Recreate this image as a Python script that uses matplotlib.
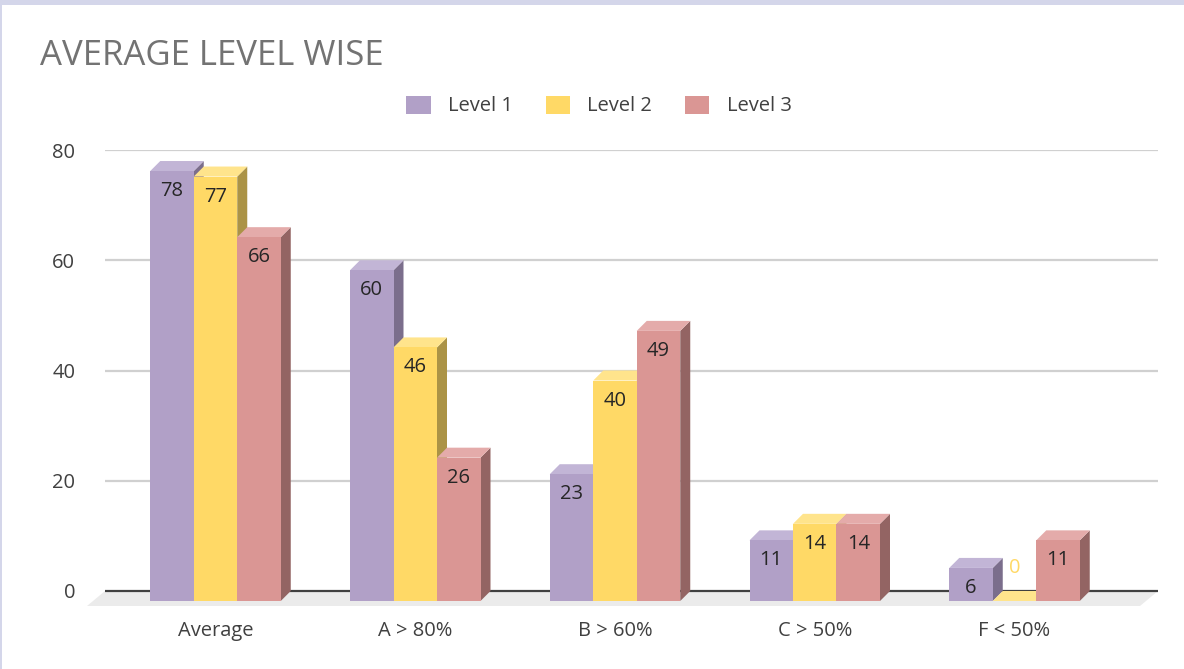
import matplotlib
matplotlib.use("Agg")
import matplotlib.pyplot as plt
from matplotlib.patches import Polygon, Rectangle, Patch

plt.rcParams['font.family'] = ['Open Sans', 'DejaVu Sans']

# Data
categories = ["Average", "A > 80%", "B > 60%", "C > 50%", "F < 50%"]
series_names = ["Level 1", "Level 2", "Level 3"]
level1 = [78, 60, 23, 11, 6]
level2 = [77, 46, 40, 14, 0]
level3 = [66, 26, 49, 14, 11]
y_ticks = [0, 20, 40, 60, 80]

# face colours: front, top, side
front_colors = ["#b1a0c7", "#ffd966", "#da9694"]
top_colors = ["#c2b5d6", "#ffe48c", "#e4abaa"]
side_colors = ["#7b6e8c", "#ab9346", "#936463"]

FS = 14.5

W, H = 1184, 669
fig = plt.figure(figsize=(W / 100, H / 100), dpi=100)
fig.patch.set_facecolor("white")

# pixel geometry of the plot area
px_left, px_right = 105, 1158
px_top, px_bottom = 150, 606
px_zero = 591
px_per_unit_y = (px_zero - px_top) / 80.0
px_per_cat = 199.75
first_center = 215.5

ax = fig.add_axes([px_left / W, (H - px_bottom) / H,
                   (px_right - px_left) / W, (px_bottom - px_top) / H])
xmin = -(first_center - px_left) / px_per_cat
xmax = (px_right - first_center) / px_per_cat
ymin = -(px_bottom - px_zero) / px_per_unit_y
ax.set_xlim(xmin, xmax)
ax.set_ylim(ymin, 80)

depth_px = 10
dx = depth_px / px_per_cat
dy = depth_px / px_per_unit_y
bar_w = 43.5 / px_per_cat

# back wall gridlines
for t in y_ticks[1:]:
    ax.axhline(t, color="#d0d0d0", lw=1.6, zorder=1)

# floor
floor_shift = 18 / px_per_cat
ax.add_patch(Polygon([(xmin - floor_shift, ymin), (xmin, 0), (xmax, 0),
                      (xmax - floor_shift, ymin)],
                     closed=True, facecolor="#ebebeb", edgecolor="none",
                     zorder=1, clip_on=False))
ax.plot([xmin, xmax], [0, 0], color="#404040", lw=1.6, zorder=2)

series = [level1, level2, level3]
z = 3
for i in range(len(categories)):
    for j, vals in enumerate(series):
        v = vals[i]
        x0 = i + (j - 1) * bar_w - bar_w / 2
        x1 = x0 + bar_w
        side = Polygon([(x1, -dy), (x1 + dx, 0), (x1 + dx, v), (x1, v - dy)],
                       closed=True, facecolor=side_colors[j], edgecolor="none", zorder=z)
        top = Polygon([(x0, v - dy), (x1, v - dy), (x1 + dx, v), (x0 + dx, v)],
                      closed=True, facecolor=top_colors[j], edgecolor="none", zorder=z)
        front = Rectangle((x0, -dy), bar_w, v, facecolor=front_colors[j],
                          edgecolor="none", zorder=z + 0.5)
        ax.add_patch(side)
        ax.add_patch(top)
        ax.add_patch(front)
        xc = (x0 + x1) / 2
        if v > 0:
            ax.text(xc, v - dy - 20 / px_per_unit_y, str(v), ha="center", va="center",
                    fontsize=FS, color="#262626", zorder=z + 1)
        else:
            ax.text(xc, 4.2, str(v), ha="center", va="center",
                    fontsize=FS, color=front_colors[j], zorder=z + 1)
        z += 2

ax.set_xticks(range(len(categories)))
ax.set_xticklabels(categories, fontsize=FS, color="#404040")
ax.set_yticks(y_ticks)
ax.set_yticklabels([str(t) for t in y_ticks], fontsize=FS, color="#404040")
ax.tick_params(axis="x", length=0, pad=11)
ax.tick_params(axis="y", length=0, pad=21.5)
for s in ax.spines.values():
    s.set_visible(False)
ax.set_facecolor("none")

# title
fig.text(40 / W, 1 - 56 / H, "AVERAGE LEVEL WISE", fontsize=25, color="#737373",
         ha="left", va="center")

# legend
handles = [Patch(facecolor=c, edgecolor="none", label=n)
           for c, n in zip(front_colors, series_names)]
fig.legend(handles=handles, loc="center", bbox_to_anchor=(599 / W, 1 - 106 / H),
           ncol=3, frameon=False, fontsize=FS, handlelength=1.2, handleheight=1.0,
           handletextpad=0.85, columnspacing=1.65, labelcolor="#404040")

# frame border along the top and left edges
fig.patches.append(Rectangle((0, 1 - 5 / H), 1, 5 / H, transform=fig.transFigure,
                             facecolor="#d4d6ea", edgecolor="none", zorder=0))
fig.patches.append(Rectangle((0, 0), 2 / W, 1, transform=fig.transFigure,
                             facecolor="#d4d6ea", edgecolor="none", zorder=0))

fig.savefig("out.png", dpi=100)
